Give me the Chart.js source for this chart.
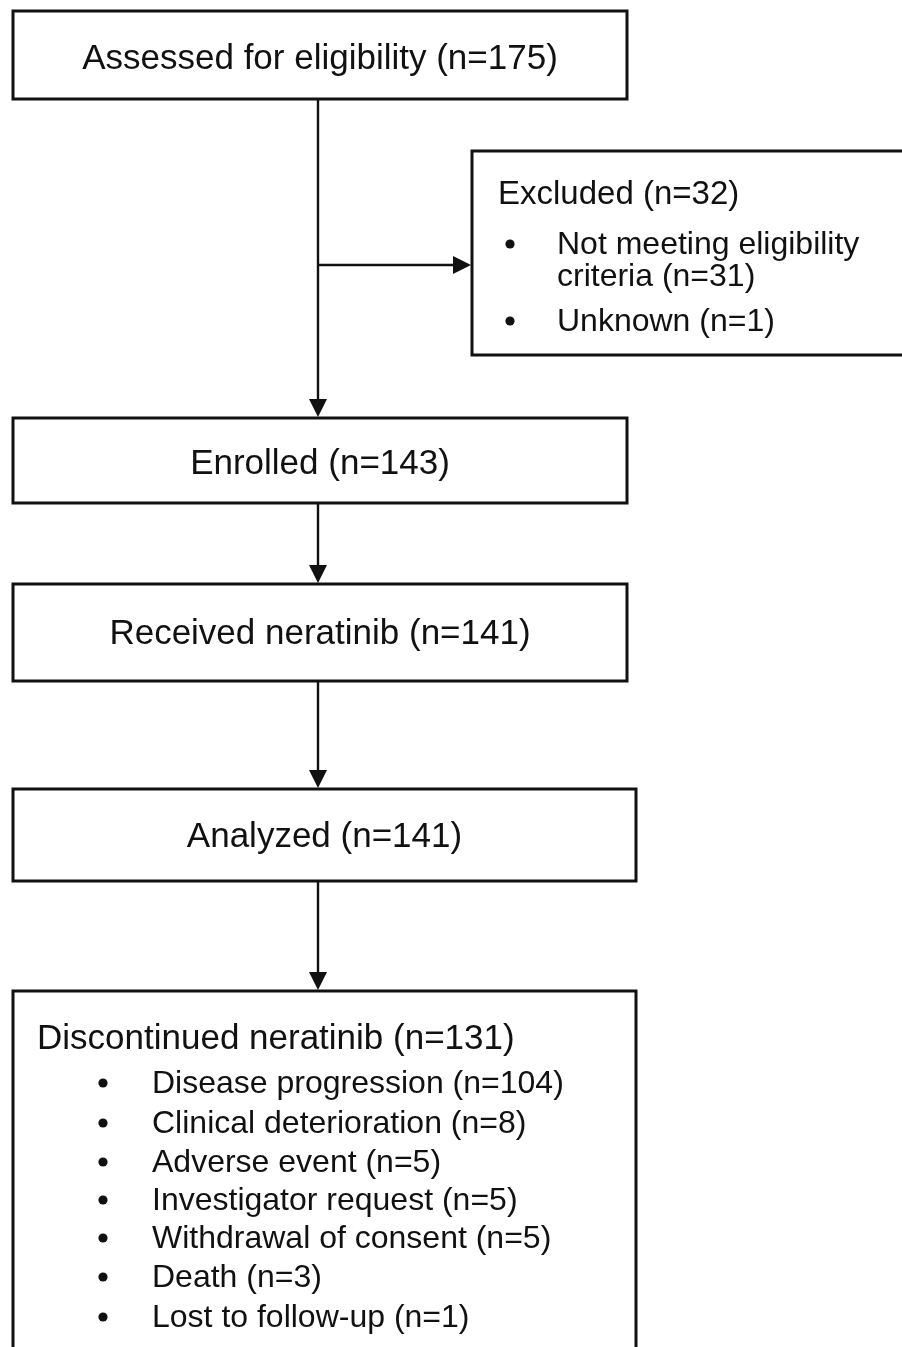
<!DOCTYPE html>
<html>
<head>
<meta charset="utf-8">
<script src="https://cdn.jsdelivr.net/npm/chart.js@4/dist/chart.umd.min.js"></script>
<style>
  html, body { margin: 0; padding: 0; background: #fff; }
  #wrap { width: 902px; height: 1347px; position: relative; }
</style>
</head>
<body>
<div id="wrap"><canvas id="c" width="902" height="1347"></canvas></div>
<script>
// ---- Data ----
const stageLabels = ['Assessed for eligibility', 'Enrolled', 'Received neratinib', 'Analyzed'];
const stageCounts = [175, 143, 141, 141];
const excludedLabel = 'Excluded';
const excludedCount = 32;
const excludedReasons = ['Not meeting eligibility criteria', 'Unknown'];
const excludedReasonCounts = [31, 1];
const discontinuedLabel = 'Discontinued neratinib';
const discontinuedCount = 131;
const discontinuedReasons = ['Disease progression', 'Clinical deterioration', 'Adverse event',
  'Investigator request', 'Withdrawal of consent', 'Death', 'Lost to follow-up'];
const discontinuedReasonCounts = [104, 8, 5, 5, 5, 3, 1];

// ---- Layout (diagram coordinates in axis units) ----
const stageBoxes = [
  { x0: 13, y0: 11,  x1: 627, y1: 99,  ty: 59 },
  { x0: 13, y0: 418, x1: 627, y1: 503, ty: 464 },
  { x0: 13, y0: 584, x1: 627, y1: 681, ty: 634 },
  { x0: 13, y0: 789, x1: 636, y1: 881, ty: 837 }
];
const exclBox = { x0: 472, y0: 151, x1: 915, y1: 355, tx: 498, ty: 195, bx: 510, ix: 557, iy: [245, 322], wrap: 330, lh: 32 };
const discBox = { x0: 13, y0: 991, x1: 636, y1: 1365, tx: 37, ty: 1039, bx: 103, ix: 152,
  iy: [1084, 1124, 1163, 1201, 1239, 1278, 1318] };
const spineX = 318;
const arrows = [
  { x0: spineX, y0: 99, x1: spineX, y1: 417 },
  { x0: spineX, y0: 265, x1: 471, y1: 265 },
  { x0: spineX, y0: 503, x1: spineX, y1: 583 },
  { x0: spineX, y0: 681, x1: spineX, y1: 788 },
  { x0: spineX, y0: 881, x1: spineX, y1: 990 }
];

const FONT = '"Liberation Sans", Arial, Helvetica, sans-serif';
const INK = '#111';

function nLabel(label, n) { return label + ' (n=' + n + ')'; }

const flowPlugin = {
  id: 'flow',
  afterDraw(chart) {
    const ctx = chart.ctx;
    const X = v => chart.scales.x.getPixelForValue(v);
    const Y = v => chart.scales.y.getPixelForValue(v);
    ctx.save();
    ctx.strokeStyle = INK;
    ctx.fillStyle = INK;

    function box(b) {
      ctx.lineWidth = 3;
      ctx.strokeRect(X(b.x0), Y(b.y0), X(b.x1) - X(b.x0), Y(b.y1) - Y(b.y0));
    }
    function arrow(a) {
      const x0 = X(a.x0), y0 = Y(a.y0), x1 = X(a.x1), y1 = Y(a.y1);
      const ang = Math.atan2(y1 - y0, x1 - x0);
      const L = 18, W = 9;
      ctx.lineWidth = 2.4;
      ctx.beginPath();
      ctx.moveTo(x0, y0);
      ctx.lineTo(x1 - Math.cos(ang) * L * 0.8, y1 - Math.sin(ang) * L * 0.8);
      ctx.stroke();
      ctx.beginPath();
      ctx.moveTo(x1, y1);
      ctx.lineTo(x1 - Math.cos(ang) * L - Math.sin(ang) * W, y1 - Math.sin(ang) * L + Math.cos(ang) * W);
      ctx.lineTo(x1 - Math.cos(ang) * L + Math.sin(ang) * W, y1 - Math.sin(ang) * L - Math.cos(ang) * W);
      ctx.closePath();
      ctx.fill();
    }
    function bullet(x, y) {
      ctx.beginPath();
      ctx.arc(x, y, 4.6, 0, Math.PI * 2);
      ctx.fill();
    }
    function wrapText(text, maxW) {
      const words = text.split(' ');
      const lines = [];
      let cur = '';
      words.forEach(w => {
        const t = cur ? cur + ' ' + w : w;
        if (ctx.measureText(t).width > maxW && cur) { lines.push(cur); cur = w; }
        else cur = t;
      });
      if (cur) lines.push(cur);
      return lines;
    }

    // Connectors
    arrows.forEach(arrow);

    // Stage boxes
    ctx.textBaseline = 'middle';
    stageBoxes.forEach((b, i) => {
      box(b);
      ctx.font = '35px ' + FONT;
      ctx.textAlign = 'center';
      ctx.fillText(nLabel(stageLabels[i], stageCounts[i]), (X(b.x0) + X(b.x1)) / 2, Y(b.ty));
    });

    // Excluded box
    box(exclBox);
    ctx.font = '33px ' + FONT;
    ctx.textAlign = 'left';
    ctx.fillText(nLabel(excludedLabel, excludedCount), X(exclBox.tx), Y(exclBox.ty));
    ctx.font = '32px ' + FONT;
    excludedReasons.forEach((r, i) => {
      const y = Y(exclBox.iy[i]);
      bullet(X(exclBox.bx), y - 1);
      const lines = wrapText(nLabel(r, excludedReasonCounts[i]), exclBox.wrap);
      lines.forEach((ln, k) => ctx.fillText(ln, X(exclBox.ix), y + k * exclBox.lh));
    });

    // Discontinued box
    box(discBox);
    ctx.font = '35px ' + FONT;
    ctx.fillText(nLabel(discontinuedLabel, discontinuedCount), X(discBox.tx), Y(discBox.ty));
    ctx.font = '32px ' + FONT;
    discontinuedReasons.forEach((r, i) => {
      const y = Y(discBox.iy[i]);
      bullet(X(discBox.bx), y - 1);
      ctx.fillText(nLabel(r, discontinuedReasonCounts[i]), X(discBox.ix), y);
    });
    ctx.restore();
  }
};

new Chart(document.getElementById('c'), {
  type: 'scatter',
  data: { datasets: [{ data: [], pointRadius: 0 }] },
  options: {
    responsive: false,
    animation: false,
    devicePixelRatio: 1,
    layout: { padding: 0 },
    plugins: { legend: { display: false }, tooltip: { enabled: false } },
    scales: {
      x: { type: 'linear', min: 0, max: 902, display: false },
      y: { type: 'linear', min: 0, max: 1347, reverse: true, display: false }
    }
  },
  plugins: [flowPlugin]
});
</script>
</body>
</html>
